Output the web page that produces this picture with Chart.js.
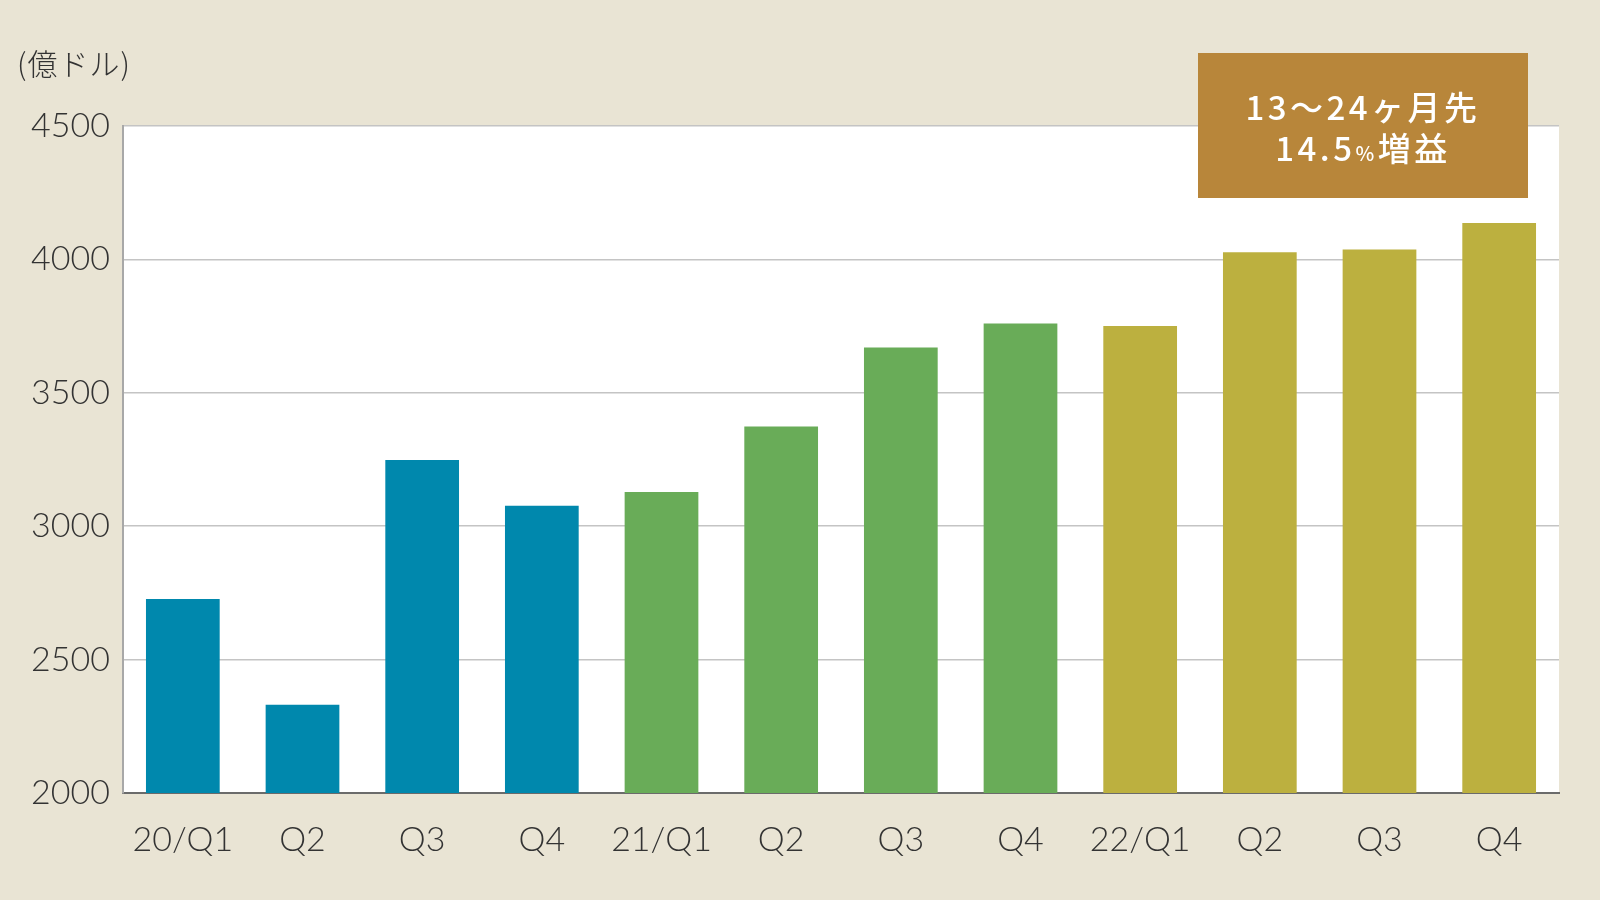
<!DOCTYPE html>
<html>
<head>
<meta charset="utf-8">
<script src="https://cdn.jsdelivr.net/npm/chart.js@4.4.0/dist/chart.umd.min.js"></script>
<style>
  html, body { margin: 0; padding: 0; background: #E9E4D4; }
  #wrap { width: 1600px; height: 900px; position: relative; }
</style>
</head>
<body>
<div id="wrap"><canvas id="c" width="1600" height="900"></canvas></div>
<script>
// ---- data ----
const categories = ['20/Q1', 'Q2', 'Q3', 'Q4', '21/Q1', 'Q2', 'Q3', 'Q4', '22/Q1', 'Q2', 'Q3', 'Q4'];
const yearGroup  = [2020, 2020, 2020, 2020, 2021, 2021, 2021, 2021, 2022, 2022, 2022, 2022];
const earnings   = [2727, 2331, 3248, 3077, 3128, 3374, 3670, 3760, 3750, 4027, 4037, 4136];
const yTicks     = [2000, 2500, 3000, 3500, 4000, 4500];
const unitLabel  = '(億ドル)';
const noteLine1  = '13～24ヶ月先';
const noteLine2a = '14.5';
const noteLine2b = '%';
const noteLine2c = '増益';

// ---- styles ----
const groupColor = { 2020: '#0088AD', 2021: '#69AC58', 2022: '#BCB03F' };
const tickFont = { family: 'Lato', size: 34, weight: '300' };

const bgPlugin = {
  id: 'bg',
  beforeDraw(chart) {
    const { ctx, chartArea: a } = chart;
    ctx.save();
    ctx.fillStyle = '#E9E4D4';
    ctx.fillRect(0, 0, chart.width, chart.height);
    ctx.fillStyle = '#FFFFFF';
    ctx.fillRect(a.left, a.top, a.right - a.left, a.bottom - a.top);
    ctx.restore();
  }
};

const overlayPlugin = {
  id: 'overlay',
  afterDraw(chart) {
    const { ctx } = chart;
    ctx.save();
    // unit label
    ctx.fillStyle = '#333333';
    ctx.font = '300 30px "Noto Sans CJK JP"';
    ctx.letterSpacing = '1px';
    ctx.textBaseline = 'middle';
    ctx.textAlign = 'left';
    ctx.fillText(unitLabel, 17, 64);

    // annotation box
    const bx = 1198, by = 53, bw = 330, bh = 145;
    ctx.fillStyle = '#B8863A';
    ctx.fillRect(bx, by, bw, bh);
    const cx = bx + bw / 2;
    ctx.fillStyle = '#FFFFFF';
    ctx.textBaseline = 'middle';
    ctx.letterSpacing = '3.5px';
    ctx.font = '500 33px "Noto Sans CJK JP"';
    let w1 = ctx.measureText(noteLine1).width;
    ctx.textAlign = 'left';
    ctx.fillText(noteLine1, cx - w1 / 2, 107);

    const fBig = '500 33px "Noto Sans CJK JP"';
    const fSmall = '500 20px "Noto Sans CJK JP"';
    ctx.font = fBig;
    const wa = ctx.measureText(noteLine2a).width;
    const wc = ctx.measureText(noteLine2c).width;
    ctx.font = fSmall;
    const wb = ctx.measureText(noteLine2b).width;
    let x = cx - (wa + wb + wc) / 2;
    const y2 = 148;
    ctx.font = fBig;
    ctx.fillText(noteLine2a, x, y2); x += wa;
    ctx.font = fSmall;
    ctx.fillText(noteLine2b, x, y2 + 5); x += wb;
    ctx.font = fBig;
    ctx.fillText(noteLine2c, x, y2);
    ctx.restore();
  }
};

new Chart(document.getElementById('c'), {
  type: 'bar',
  data: {
    labels: categories,
    datasets: [{
      data: earnings,
      backgroundColor: yearGroup.map(g => groupColor[g]),
      borderWidth: 0,
      barPercentage: 0.616,
      categoryPercentage: 1.0
    }]
  },
  options: {
    responsive: false,
    animation: false,
    devicePixelRatio: 1,
    layout: { padding: { left: 0, right: 41, top: 126, bottom: 0 } },
    plugins: { legend: { display: false }, tooltip: { enabled: false } },
    scales: {
      x: {
        grid: { display: false, drawTicks: false },
        border: { display: true, color: '#6b6b6b', width: 2 },
        ticks: { color: '#333333', font: tickFont, padding: 27, maxRotation: 0, autoSkip: false },
        afterFit(scale) { scale.height = 107; }
      },
      y: {
        min: 2000, max: 4500,
        afterBuildTicks(scale) { scale.ticks = yTicks.map(v => ({ value: v })); },
        grid: { color: '#c4c4c4', lineWidth: 1.5, drawTicks: false },
        border: { display: true, color: '#a8a8a8', width: 2 },
        ticks: { color: '#333333', font: tickFont, padding: 13, callback: v => String(v) },
        afterFit(scale) { scale.width = 123; }
      }
    }
  },
  plugins: [bgPlugin, overlayPlugin]
});
</script>
</body>
</html>
